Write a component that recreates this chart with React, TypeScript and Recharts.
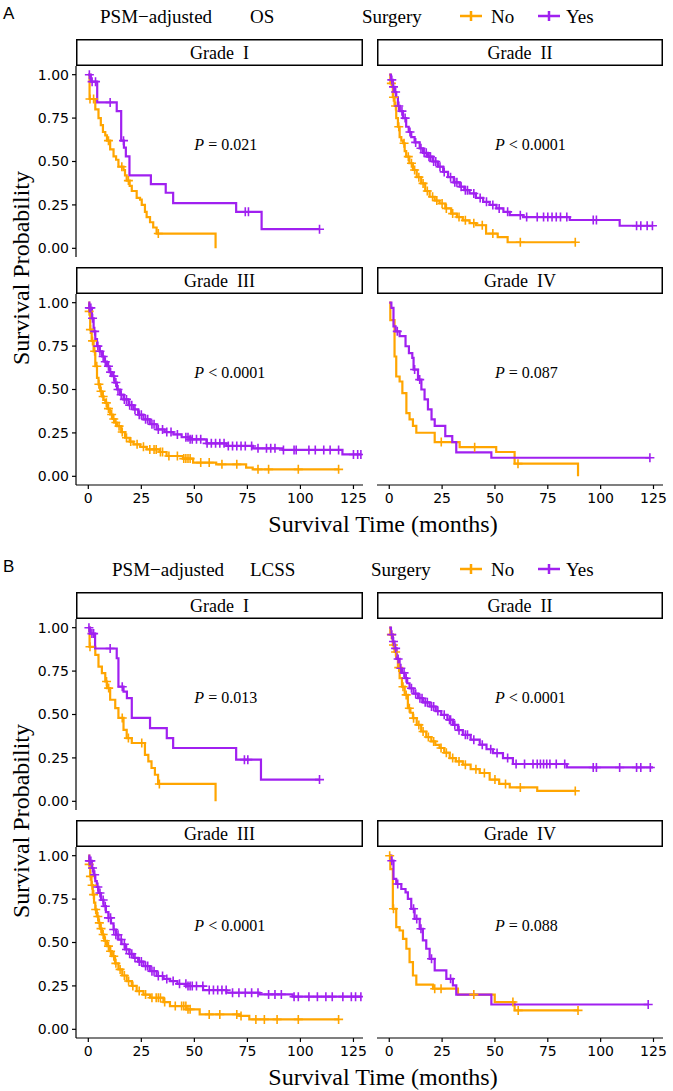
import React from "react";
import { ComposedChart, Line, Scatter, XAxis, YAxis, ReferenceDot } from "recharts";

// Kaplan–Meier step points: time (months) where survival drops, survival after the drop.
// *C arrays are the censoring times (drawn as "+").

// ---- OS ----
const osG1NoT = [0, 0.6, 3.3, 4.8, 5.9, 6.9, 8.0, 8.8, 10.3, 11.9, 13.1, 14.2, 16.6, 17.3, 18.1, 19.5, 20.5, 22.8, 24.4, 25.2, 26.7, 27.5, 29.1, 30.6, 32.2, 60];
const osG1NoS = [1, 0.86, 0.8, 0.75, 0.71, 0.67, 0.65, 0.62, 0.57, 0.53, 0.51, 0.47, 0.45, 0.42, 0.39, 0.36, 0.33, 0.29, 0.28, 0.25, 0.21, 0.18, 0.15, 0.12, 0.085, 0];
const osG1NoC = [0.8, 2.5, 9.5, 15.8, 18.9, 33];
const osG1YesT = [0, 1.2, 4.2, 13.4, 15.5, 16.8, 17.7, 19.4, 29.5, 36.5, 40, 69.7, 81.7, 109];
const osG1YesS = [1, 0.96, 0.84, 0.79, 0.62, 0.58, 0.53, 0.42, 0.37, 0.32, 0.26, 0.21, 0.11, 0.11];
const osG1YesC = [0.5, 1.8, 3.4, 10.3, 16.6, 74, 75.5, 109];

const osG2NoT = [0, 0.5, 1.7, 2.5, 3.3, 4.1, 4.9, 5.7, 6.5, 7.3, 8.0, 9.5, 11.2, 13.0, 15.1, 17.0, 19.1, 21.5, 23.8, 26.5, 29.3, 32.0, 34.8, 38.0, 41.1, 45.8, 51.3, 56.0, 88];
const osG2NoS = [1, 0.95, 0.87, 0.82, 0.75, 0.7, 0.64, 0.62, 0.605, 0.56, 0.528, 0.49, 0.451, 0.41, 0.374, 0.33, 0.297, 0.275, 0.258, 0.23, 0.2, 0.18, 0.161, 0.145, 0.133, 0.085, 0.065, 0.035, 0.035];
const osG2NoC = [1, 2, 3, 4.5, 7, 9, 10.5, 12, 14, 16, 18, 20.5, 22.5, 25, 27, 30, 33, 36, 40, 44, 49, 62, 88];
const osG2YesT = [0, 0.8, 1.7, 2.5, 3.3, 4.1, 5.0, 6.5, 8.0, 9.2, 10.4, 12.0, 14.4, 16.0, 18.3, 20.5, 23.0, 25.5, 27.8, 30.5, 33.3, 35.5, 38.0, 41.0, 44.4, 47.5, 50.7, 54.0, 57.0, 63.3, 85.4, 109, 124.8];
const osG2YesS = [1, 0.97, 0.93, 0.9, 0.87, 0.82, 0.79, 0.75, 0.7, 0.67, 0.64, 0.61, 0.576, 0.55, 0.528, 0.5, 0.47, 0.44, 0.41, 0.38, 0.355, 0.335, 0.316, 0.29, 0.268, 0.25, 0.23, 0.21, 0.191, 0.18, 0.163, 0.13, 0.13];
const osG2YesC = [1.2, 2, 3, 4.5, 6, 7.5, 9.8, 12.5, 15, 16.5, 17.5, 18.8, 19.5, 21, 22, 24, 26, 29, 31, 32, 34, 36, 37, 40, 43, 46, 49, 52, 56, 62, 65, 70, 73, 75, 77, 79, 81, 84, 96.5, 98, 117, 119, 122, 124.5];

const osG3NoT = [0, 0.4, 0.9, 1.6, 2.5, 3.3, 4.1, 4.8, 5.6, 6.5, 7.2, 8.0, 9.0, 10.3, 11.5, 12.5, 13.5, 15.5, 17.3, 19.5, 21.3, 24.5, 27.5, 33.7, 36.9, 44.7, 49.4, 60.3, 74.4, 77.5, 118];
const osG3NoS = [1, 0.95, 0.845, 0.78, 0.72, 0.634, 0.567, 0.53, 0.49, 0.46, 0.44, 0.423, 0.39, 0.356, 0.33, 0.31, 0.289, 0.255, 0.222, 0.2, 0.184, 0.17, 0.155, 0.14, 0.117, 0.102, 0.079, 0.069, 0.05, 0.04, 0.04];
const osG3NoC = [0.4, 1, 2, 3, 4, 5, 6, 7, 8.5, 9.5, 11, 12, 13, 14.5, 16, 18, 20, 23, 26, 29, 31, 32, 34, 35, 38, 42, 45, 46, 47, 48, 53, 57, 63, 70, 80, 85, 99, 118];
const osG3YesT = [0, 0.5, 1.7, 2.5, 3.3, 4.1, 5.3, 6.5, 7.6, 8.8, 10.0, 11.1, 12.3, 13.5, 15.0, 16.6, 19.0, 21.3, 23.5, 26.0, 29.0, 32.2, 36.0, 40.1, 44.0, 47.9, 55.7, 65.1, 77.6, 91.7, 119.8, 128.5];
const osG3YesS = [1, 0.97, 0.91, 0.835, 0.79, 0.75, 0.72, 0.69, 0.66, 0.634, 0.6, 0.577, 0.54, 0.5, 0.47, 0.443, 0.41, 0.385, 0.355, 0.328, 0.3, 0.27, 0.255, 0.241, 0.225, 0.213, 0.19, 0.175, 0.161, 0.152, 0.126, 0.126];
const osG3YesC = [0.5, 1.2, 2, 3, 4.5, 5.5, 7, 8, 9.5, 10.5, 12, 13, 14, 15.5, 17, 18, 19.5, 20.5, 22, 24, 25, 27, 28, 30, 31, 33, 35, 37, 39, 42, 46, 47, 48, 49, 51, 53, 56, 58, 60, 62, 64, 66, 68, 70, 72, 74, 77, 80, 84, 86, 88, 92, 97, 98, 104, 107, 111, 114, 118, 125, 127, 128.5];

const osG4NoT = [0, 0.5, 2.5, 3.3, 4.9, 6.2, 8.1, 9.6, 11.2, 12.8, 21.5, 33.3, 50.6, 59.3, 89.3];
const osG4NoS = [1, 0.9, 0.69, 0.575, 0.546, 0.479, 0.364, 0.328, 0.29, 0.251, 0.197, 0.168, 0.14, 0.073, 0];
const osG4NoC = [24.6, 40.4, 60.9];
const osG4YesT = [0, 1.0, 2.0, 3.0, 4.9, 7.7, 9.3, 10.9, 11.5, 13.6, 15.2, 16.7, 18.3, 20.0, 21.5, 26.5, 29.8, 31.7, 48.3, 123.3];
const osG4YesS = [1, 0.97, 0.864, 0.835, 0.807, 0.749, 0.71, 0.682, 0.615, 0.557, 0.5, 0.443, 0.385, 0.328, 0.29, 0.232, 0.197, 0.138, 0.107, 0.107];
const osG4YesC = [3.8, 12, 14.4, 123.3];

// ---- LCSS ----
const lcG1NoT = [0, 0.6, 3.3, 4.8, 6.4, 8.0, 8.8, 10.3, 12.7, 14.2, 16.6, 18.1, 20.5, 26.7, 28.3, 29.8, 31.4, 32.9, 60];
const lcG1NoS = [1, 0.89, 0.843, 0.776, 0.738, 0.69, 0.652, 0.585, 0.537, 0.48, 0.412, 0.364, 0.336, 0.268, 0.23, 0.192, 0.153, 0.1, 0];
const lcG1NoC = [0.8, 8.6, 9.6, 16, 18.9, 25.2, 33.5];
const lcG1YesT = [0, 0.8, 3.2, 13.4, 14.2, 16.6, 18.2, 20.5, 29.1, 37.0, 40.0, 69.7, 81.4, 109];
const lcG1YesS = [1, 0.966, 0.88, 0.824, 0.66, 0.632, 0.594, 0.48, 0.422, 0.364, 0.307, 0.24, 0.125, 0.125];
const lcG1YesC = [0.3, 1.7, 2.5, 10.3, 16, 73.6, 75.2, 109];

const lcG2NoT = [0, 0.5, 1.7, 2.5, 3.3, 4.1, 4.9, 6.0, 7.3, 8.8, 10.0, 11.2, 13.0, 15.1, 17.5, 19.9, 21.8, 23.8, 26.0, 28.6, 31.5, 34.8, 38.5, 42.8, 47.5, 52.0, 57.0, 70.0, 88];
const lcG2NoS = [1, 0.96, 0.9, 0.86, 0.824, 0.77, 0.709, 0.66, 0.613, 0.536, 0.51, 0.479, 0.44, 0.402, 0.37, 0.345, 0.325, 0.307, 0.28, 0.249, 0.23, 0.211, 0.185, 0.163, 0.125, 0.1, 0.08, 0.06, 0.06];
const lcG2NoC = [1, 2, 3, 4.5, 6.5, 8, 9.5, 11.5, 14, 16, 18.5, 21, 24.5, 27, 30, 33, 36, 41, 45, 50, 55, 62, 88];
const lcG2YesT = [0, 0.8, 1.7, 2.5, 3.5, 4.9, 6.0, 7.3, 8.5, 9.6, 11.5, 13.6, 16.0, 19.1, 22.0, 24.6, 27.5, 30.1, 32.5, 34.8, 38.5, 42.8, 46.0, 49.1, 53.8, 58.5, 84, 124.8];
const lcG2YesS = [1, 0.96, 0.92, 0.881, 0.82, 0.766, 0.74, 0.709, 0.68, 0.651, 0.62, 0.594, 0.57, 0.546, 0.52, 0.498, 0.47, 0.44, 0.41, 0.383, 0.355, 0.326, 0.3, 0.278, 0.249, 0.215, 0.195, 0.195];
const lcG2YesC = [1.2, 2, 3, 4.2, 5.5, 7, 8, 10.5, 12.5, 14.5, 15.5, 17, 18, 20, 21, 23, 26, 28.5, 29, 31, 33, 36, 37, 40, 44, 48, 51, 56, 60, 64, 68, 70, 71.5, 73, 74.5, 76, 79, 83, 96.5, 98, 109, 117, 119, 123.5];

const lcG3NoT = [0, 0.4, 0.9, 1.5, 2.1, 2.7, 3.3, 4.0, 4.8, 5.6, 6.4, 7.5, 8.8, 10.0, 11.1, 12.6, 14.2, 16.0, 18.1, 20.5, 22.8, 26.0, 29.1, 35.4, 38.5, 46.3, 52.5, 71.3, 75.9, 118];
const lcG3NoS = [1, 0.95, 0.881, 0.83, 0.776, 0.73, 0.69, 0.65, 0.613, 0.58, 0.546, 0.51, 0.479, 0.45, 0.421, 0.38, 0.345, 0.31, 0.278, 0.25, 0.22, 0.2, 0.182, 0.157, 0.134, 0.115, 0.086, 0.077, 0.057, 0.057];
const lcG3NoC = [0.4, 1, 1.8, 2.5, 3.5, 4.5, 5.2, 6, 7, 8, 9.5, 10.5, 12, 13, 15, 17, 19, 21, 24, 27, 30, 32, 33, 34, 36, 41, 44, 45, 46, 47, 48, 57, 62, 70, 72, 79, 83, 89, 99, 118];
const lcG3YesT = [0, 0.5, 1.7, 2.5, 3.3, 4.0, 4.8, 6.0, 7.2, 8.3, 9.5, 10.7, 11.9, 13.0, 14.2, 15.7, 17.3, 19.3, 21.3, 23.5, 26.0, 29.0, 32.2, 35.5, 38.5, 42.0, 46.3, 54.1, 65.1, 80.7, 96.3, 128.5];
const lcG3YesS = [1, 0.97, 0.929, 0.89, 0.853, 0.82, 0.785, 0.745, 0.709, 0.675, 0.642, 0.61, 0.575, 0.545, 0.517, 0.49, 0.46, 0.435, 0.412, 0.39, 0.364, 0.335, 0.307, 0.29, 0.278, 0.262, 0.249, 0.226, 0.211, 0.201, 0.188, 0.188];
const lcG3YesC = [0.5, 1.2, 2, 3, 4.5, 5.5, 7, 8, 9.5, 10.5, 12, 13, 14, 15.5, 17, 18, 19.5, 20.5, 22, 24, 25, 27, 28, 30, 31, 33, 35, 37, 40, 43, 46, 47, 48, 49, 51, 54, 57, 59, 61, 63, 65, 68, 71, 74, 77, 80, 85, 88, 91, 97, 99, 104, 108, 112, 115, 120, 124, 126, 128.5];

const lcG4NoT = [0, 0.5, 1.7, 3.3, 4.9, 6.5, 8.1, 9.6, 11.2, 12.8, 20.7, 32.5, 49.9, 59.3, 89.3];
const lcG4NoS = [1, 0.923, 0.694, 0.588, 0.569, 0.521, 0.464, 0.387, 0.31, 0.257, 0.234, 0.2, 0.157, 0.109, 0.109];
const lcG4NoC = [0.2, 2, 21.5, 24.5, 40, 58.5, 61, 89.3];
const lcG4YesT = [0, 1.0, 2.0, 3.3, 5.7, 7.7, 8.8, 10.4, 12.0, 14.4, 15.9, 17.5, 19.1, 21.5, 27.0, 30.1, 31.7, 48.3, 122.5];
const lcG4YesS = [1, 0.971, 0.866, 0.837, 0.808, 0.789, 0.751, 0.694, 0.636, 0.579, 0.512, 0.464, 0.406, 0.339, 0.291, 0.253, 0.2, 0.143, 0.143];
const lcG4YesC = [1.2, 4, 11.5, 13, 15, 20, 29, 122.5];

const grades = ["Grade  I", "Grade  II", "Grade  III", "Grade  IV"];
const osP = [" = 0.021", " < 0.0001", " < 0.0001", " = 0.087"];
const lcP = [" = 0.013", " < 0.0001", " < 0.0001", " = 0.088"];
const xTicks = [0, 25, 50, 75, 100, 125];
const yTicks = [0, 0.25, 0.5, 0.75, 1];

const NO_COLOR = "#FFA500";
const YES_COLOR = "#A020F0";
const SERIF = '"Liberation Serif", "Times New Roman", serif';
const TICK_FONT = '"DejaVu Sans", Verdana, sans-serif';

const toPoints = (t: number[], s: number[]) => t.map((x, i) => ({ t: x, s: s[i] }));
const survAt = (t: number[], s: number[], x: number) => {
  let v = s[0];
  t.forEach((ti, i) => {
    if (ti <= x) v = s[i];
  });
  return v;
};
const censorPoints = (t: number[], s: number[], c: number[]) => c.map((x) => ({ t: x, s: survAt(t, s, x) }));

function Plus(props: any) {
  const { cx, cy, fill } = props;
  if (cx == null || cy == null) return null;
  return (
    <path
      d={`M${cx - 4.5},${cy}H${cx + 4.5}M${cx},${cy - 4.5}V${cy + 4.5}`}
      stroke={fill}
      strokeWidth={1.6}
      fill="none"
    />
  );
}

function PValue(props: any) {
  const { viewBox, text } = props;
  return (
    <text x={viewBox.x} y={viewBox.y} dy="0.35em" fontFamily={SERIF} fontSize={16} fill="#000">
      <tspan fontStyle="italic">P</tspan>
      {text}
    </text>
  );
}

interface PanelProps {
  left: number;
  top: number;
  width: number;
  height: number;
  showX: boolean;
  showY: boolean;
  no: [number[], number[], number[]];
  yes: [number[], number[], number[]];
  pText: string;
}

const PAD_R = 16; // room for the last x tick label

function KMPanel({ left, top, width, height, showX, showY, no, yes, pText }: PanelProps) {
  const axisStyle = { stroke: "#000", strokeWidth: 1.2 };
  const tickStyle = { fontSize: 14, fill: "#000", fontFamily: TICK_FONT };
  return (
    <div style={{ position: "absolute", left, top }}>
      <ComposedChart width={width + PAD_R} height={height} margin={{ top: 0, right: PAD_R, bottom: 0, left: 0 }}>
        <XAxis
          type="number"
          dataKey="t"
          domain={[-5.8, 129.5]}
          ticks={xTicks}
          interval={0}
          allowDataOverflow
          hide={!showX}
          height={30}
          tick={tickStyle}
          tickSize={4}
          tickMargin={4}
          axisLine={axisStyle}
          tickLine={axisStyle}
        />
        <YAxis
          type="number"
          dataKey="s"
          domain={[-0.05, 1.05]}
          ticks={yTicks}
          interval={0}
          allowDataOverflow
          hide={!showY}
          width={76}
          tick={tickStyle}
          tickSize={4}
          tickMargin={3}
          axisLine={axisStyle}
          tickLine={axisStyle}
          tickFormatter={(v: number) => v.toFixed(2)}
        />
        <Line
          data={toPoints(no[0], no[1])}
          dataKey="s"
          type="stepAfter"
          stroke={NO_COLOR}
          strokeWidth={2.2}
          dot={false}
          isAnimationActive={false}
        />
        <Line
          data={toPoints(yes[0], yes[1])}
          dataKey="s"
          type="stepAfter"
          stroke={YES_COLOR}
          strokeWidth={2.2}
          dot={false}
          isAnimationActive={false}
        />
        <Scatter
          data={censorPoints(no[0], no[1], no[2])}
          dataKey="s"
          fill={NO_COLOR}
          shape={<Plus />}
          isAnimationActive={false}
        />
        <Scatter
          data={censorPoints(yes[0], yes[1], yes[2])}
          dataKey="s"
          fill={YES_COLOR}
          shape={<Plus />}
          isAnimationActive={false}
        />
        <ReferenceDot x={50} y={0.6} r={0} fill="none" stroke="none" label={<PValue text={pText} />} />
      </ComposedChart>
    </div>
  );
}

// panel geometry (relative to each half)
const COL_X = [76, 377];
const COL_W = [287, 286];
const STRIP_Y = [39, 267];
const PLOT_Y = [66, 294];
const PLOT_H = 191;

interface HalfProps {
  top: number;
  letter: string;
  endpoint: string;
  titleX: number;
  endpointX: number;
  surgeryX: number;
  curves: Array<{ no: [number[], number[], number[]]; yes: [number[], number[], number[]] }>;
  pvals: string[];
}

function Half({ top, letter, endpoint, titleX, endpointX, surgeryX, curves, pvals }: HalfProps) {
  const legendY = 16;
  return (
    <div style={{ position: "absolute", left: 0, top, width: 673, height: 553 }}>
      <svg width={673} height={553} style={{ position: "absolute", left: 0, top: 0 }}>
        <text x={3} y={13} dominantBaseline="central" fontFamily='"Liberation Sans", Arial, sans-serif' fontSize={17}>
          {letter}
        </text>
        <g fontFamily={SERIF} fontSize={19} fill="#000">
          <text x={titleX} y={legendY} dominantBaseline="central">PSM−adjusted</text>
          <text x={endpointX} y={legendY} dominantBaseline="central">{endpoint}</text>
          <text x={surgeryX} y={legendY} dominantBaseline="central">Surgery</text>
          <path d={`M460,${legendY}H482M471,${legendY - 5}V${legendY + 5}`} stroke={NO_COLOR} strokeWidth={2.5} />
          <text x={491} y={legendY} dominantBaseline="central">No</text>
          <path d={`M538,${legendY}H560M549,${legendY - 5}V${legendY + 5}`} stroke={YES_COLOR} strokeWidth={2.5} />
          <text x={566} y={legendY} dominantBaseline="central">Yes</text>
        </g>
        {grades.map((g, i) => {
          const col = i % 2;
          const row = Math.floor(i / 2);
          return (
            <g key={g}>
              <rect
                x={COL_X[col] + 0.75}
                y={STRIP_Y[row] + 0.75}
                width={COL_W[col] - 1.5}
                height={27 - 1.5}
                fill="#fff"
                stroke="#000"
                strokeWidth={1.5}
              />
              <text
                x={COL_X[col] + COL_W[col] / 2}
                y={STRIP_Y[row] + 14}
                textAnchor="middle"
                dominantBaseline="central"
                fontFamily={SERIF}
                fontSize={18}
                style={{ whiteSpace: "pre" }}
              >
                {g}
              </text>
            </g>
          );
        })}
        <text
          x={21}
          y={268}
          transform="rotate(-90 21 268)"
          textAnchor="middle"
          dominantBaseline="central"
          fontFamily={SERIF}
          fontSize={24}
        >
          Survival Probability
        </text>
        <text x={383} y={524} textAnchor="middle" dominantBaseline="central" fontFamily={SERIF} fontSize={24}>
          Survival Time (months)
        </text>
      </svg>
      {curves.map((c, i) => {
        const col = i % 2;
        const row = Math.floor(i / 2);
        const showY = col === 0;
        const showX = row === 1;
        return (
          <KMPanel
            key={i}
            left={showY ? 0 : COL_X[col]}
            top={PLOT_Y[row]}
            width={showY ? COL_X[col] + COL_W[col] : COL_W[col]}
            height={showX ? PLOT_H + 30 : PLOT_H}
            showX={showX}
            showY={showY}
            no={c.no}
            yes={c.yes}
            pText={pvals[i]}
          />
        );
      })}
    </div>
  );
}

export default function App() {
  const osCurves: HalfProps["curves"] = [
    { no: [osG1NoT, osG1NoS, osG1NoC], yes: [osG1YesT, osG1YesS, osG1YesC] },
    { no: [osG2NoT, osG2NoS, osG2NoC], yes: [osG2YesT, osG2YesS, osG2YesC] },
    { no: [osG3NoT, osG3NoS, osG3NoC], yes: [osG3YesT, osG3YesS, osG3YesC] },
    { no: [osG4NoT, osG4NoS, osG4NoC], yes: [osG4YesT, osG4YesS, osG4YesC] },
  ];
  const lcCurves: HalfProps["curves"] = [
    { no: [lcG1NoT, lcG1NoS, lcG1NoC], yes: [lcG1YesT, lcG1YesS, lcG1YesC] },
    { no: [lcG2NoT, lcG2NoS, lcG2NoC], yes: [lcG2YesT, lcG2YesS, lcG2YesC] },
    { no: [lcG3NoT, lcG3NoS, lcG3NoC], yes: [lcG3YesT, lcG3YesS, lcG3YesC] },
    { no: [lcG4NoT, lcG4NoS, lcG4NoC], yes: [lcG4YesT, lcG4YesS, lcG4YesC] },
  ];
  return (
    <div style={{ position: "absolute", left: 0, top: 0, width: 673, height: 1091, background: "#fff" }}>
      <Half top={0} letter="A" endpoint="OS" titleX={100} endpointX={250} surgeryX={362} curves={osCurves} pvals={osP} />
      <Half top={553} letter="B" endpoint="LCSS" titleX={112} endpointX={250} surgeryX={371} curves={lcCurves} pvals={lcP} />
    </div>
  );
}
